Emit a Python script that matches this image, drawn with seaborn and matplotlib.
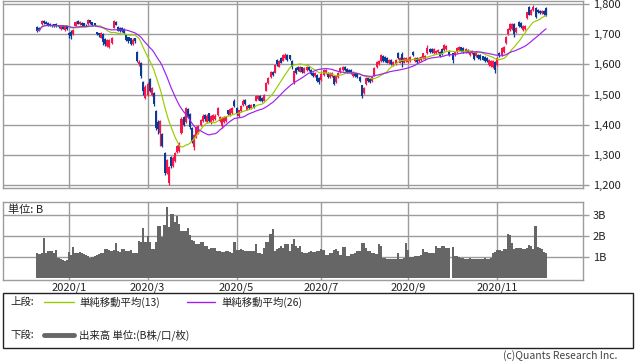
import numpy as np
import pandas as pd
import matplotlib
matplotlib.use("Agg")
import matplotlib.pyplot as plt
import seaborn as sns
from matplotlib.patches import Rectangle

sns.set_style("white")
plt.rcParams["font.family"] = ["Noto Sans CJK JP", "DejaVu Sans"]

# ---------------- data ----------------
start_date = "2019-12-10"
end_date = "2020-12-07"
holidays = ["2019-12-31", "2020-01-01", "2020-01-02", "2020-01-03", "2020-01-13",
            "2020-02-11", "2020-02-24", "2020-03-20", "2020-04-29", "2020-05-04",
            "2020-05-05", "2020-05-06", "2020-07-23", "2020-07-24", "2020-08-10",
            "2020-09-21", "2020-09-22", "2020-11-03", "2020-11-23"]
nan = np.nan

opens = [
    1724, 1722, 1733, 1745, 1742, 1738, 1735, 1732, 1733, 1734,
    1730, 1716, 1730, 1714, 1726, 1704, 1708, 1700, 1728, 1744,
    1733, 1738, 1736, 1732, 1734, 1746, 1740, 1736, 1706, 1703,
    1688, 1700, 1685, 1660, 1658, 1670, 1722, 1742, 1724, 1720,
    1722, 1716, 1697, 1690, 1686, 1668, 1686, 1640, 1600, 1606,
    1540, 1490, 1500, 1552, 1500, 1505, 1445, 1410, 1372, 1368,
    1305, 1240, 1205, 1293, 1262, 1278, 1310, 1312, 1372, 1425,
    1408, 1452, 1435, 1390, 1325, 1360, 1372, 1398, 1412, 1432,
    1410, 1438, 1405, 1415, 1420, 1432, 1412, 1395, 1408, 1412,
    1448, 1432, 1440, 1480, 1455, 1428, 1445, 1465, 1482, 1450,
    1465, 1455, 1468, 1480, 1485, 1495, 1490, 1480, 1512, 1538,
    1558, 1575, 1572, 1614, 1592, 1621, 1612, 1620, 1630, 1630,
    1612, 1540, 1588, 1590, 1576, 1590, 1572, 1580, 1592, 1582,
    1572, 1562, 1565, 1555, 1548, 1565, 1570, 1572, 1558, 1560,
    1560, 1540, 1558, 1575, 1580, 1590, 1585, 1582, 1580, 1560,
    1572, 1568, 1558, 1530, 1505, 1535, 1555, 1552, 1545, 1562,
    1590, 1600, 1612, 1628, 1625, 1620, 1604, 1614, 1598, 1602,
    1638, 1606, 1634, 1606, 1610, 1608, 1612, 1641, 1610, 1622,
    1610, 1615, 1622, 1618, 1638, 1652, 1650, 1636, 1638, 1640,
    1642, 1650, 1648, 1650, 1645, nan, 1636, 1630, 1642, 1648,
    1656, 1655, 1640, 1648, 1632, 1636, 1638, 1628, 1632, 1630,
    1626, 1624, 1620, 1598, 1594, 1592, 1608, 1598, 1638, 1630,
    1640, 1670, 1700, 1715, 1718, 1734, 1706, 1742, 1738, 1714,
    1718, 1754, 1790, 1765, 1780, 1787, 1780, 1778, 1770, 1776,
    1787]

closes = [
    1712, 1714, 1745, 1737, 1735, 1730, 1728, 1727, 1726, 1727,
    1725, 1729, 1718, 1727, 1718, 1697, 1695, 1715, 1742, 1735,
    1741, 1730, 1728, 1729, 1746, 1736, 1730, 1730, 1699, 1698,
    1703, 1675, 1668, 1682, 1680, 1688, 1743, 1732, 1712, 1712,
    1710, 1704, 1680, 1676, 1667, 1682, 1676, 1612, 1608, 1562,
    1510, 1525, 1535, 1512, 1522, 1468, 1390, 1385, 1412, 1330,
    1240, 1282, 1258, 1262, 1290, 1305, 1330, 1338, 1420, 1400,
    1455, 1430, 1392, 1345, 1365, 1390, 1395, 1414, 1430, 1418,
    1430, 1412, 1430, 1432, 1430, 1455, 1425, 1420, 1425, 1424,
    1435, 1452, 1455, 1462, 1435, 1448, 1462, 1480, 1468, 1462,
    1456, 1465, 1458, 1496, 1495, 1480, 1478, 1498, 1538, 1555,
    1575, 1565, 1598, 1600, 1610, 1606, 1630, 1630, 1616, 1618,
    1590, 1578, 1572, 1582, 1590, 1575, 1588, 1590, 1580, 1568,
    1560, 1570, 1545, 1540, 1568, 1580, 1580, 1558, 1570, 1572,
    1535, 1560, 1572, 1588, 1592, 1582, 1575, 1574, 1572, 1575,
    1560, 1558, 1545, 1495, 1522, 1555, 1545, 1542, 1558, 1588,
    1608, 1612, 1630, 1612, 1612, 1606, 1616, 1600, 1608, 1615,
    1622, 1620, 1608, 1620, 1620, 1618, 1625, 1630, 1620, 1608,
    1620, 1625, 1636, 1628, 1654, 1640, 1640, 1650, 1645, 1648,
    1628, 1635, 1664, 1662, 1630, nan, 1615, 1640, 1655, 1658,
    1645, 1640, 1650, 1640, 1642, 1645, 1618, 1640, 1620, 1618,
    1616, 1612, 1610, 1614, 1612, 1610, 1580, 1622, 1626, 1654,
    1656, 1690, 1718, 1735, 1734, 1700, 1722, 1726, 1725, 1728,
    1728, 1772, 1765, 1780, 1790, 1756, 1772, 1770, 1778, 1768,
    1762]

highs = [
    1727, 1725, 1748, 1747, 1744, 1740, 1737, 1735, 1735, 1736,
    1732, 1731, 1732, 1729, 1728, 1708, 1714, 1718, 1745, 1746,
    1744, 1740, 1738, 1734, 1750, 1748, 1742, 1738, 1708, 1705,
    1706, 1704, 1688, 1685, 1684, 1690, 1748, 1744, 1726, 1724,
    1724, 1720, 1699, 1692, 1688, 1686, 1688, 1645, 1615, 1608,
    1545, 1530, 1540, 1556, 1526, 1508, 1450, 1415, 1415, 1372,
    1308, 1286, 1262, 1296, 1295, 1308, 1334, 1342, 1425, 1430,
    1460, 1456, 1440, 1392, 1370, 1395, 1398, 1418, 1434, 1435,
    1434, 1440, 1433, 1436, 1434, 1458, 1428, 1424, 1428, 1428,
    1450, 1455, 1458, 1485, 1458, 1450, 1465, 1484, 1485, 1465,
    1468, 1468, 1470, 1500, 1498, 1497, 1492, 1502, 1540, 1558,
    1578, 1578, 1602, 1618, 1614, 1624, 1634, 1636, 1633, 1632,
    1615, 1582, 1592, 1593, 1593, 1592, 1591, 1593, 1595, 1585,
    1575, 1573, 1568, 1557, 1571, 1583, 1583, 1575, 1573, 1575,
    1562, 1563, 1575, 1591, 1596, 1593, 1588, 1585, 1583, 1578,
    1575, 1570, 1561, 1533, 1526, 1558, 1558, 1555, 1561, 1592,
    1611, 1616, 1634, 1631, 1628, 1623, 1619, 1617, 1611, 1618,
    1641, 1623, 1640, 1623, 1623, 1621, 1628, 1644, 1623, 1625,
    1623, 1628, 1639, 1631, 1665, 1655, 1653, 1653, 1648, 1651,
    1645, 1653, 1668, 1665, 1648, nan, 1639, 1643, 1658, 1661,
    1659, 1658, 1653, 1651, 1645, 1648, 1641, 1643, 1635, 1633,
    1629, 1627, 1623, 1617, 1615, 1613, 1611, 1625, 1641, 1657,
    1660, 1693, 1721, 1738, 1737, 1737, 1725, 1745, 1741, 1731,
    1731, 1775, 1795, 1783, 1797, 1790, 1783, 1781, 1781, 1779,
    1790]

lows = [
    1708, 1710, 1731, 1734, 1733, 1728, 1726, 1725, 1724, 1725,
    1722, 1714, 1716, 1712, 1715, 1688, 1684, 1698, 1726, 1733,
    1731, 1728, 1726, 1727, 1732, 1734, 1728, 1728, 1696, 1690,
    1686, 1665, 1662, 1657, 1655, 1668, 1720, 1730, 1710, 1708,
    1707, 1700, 1676, 1670, 1664, 1665, 1672, 1608, 1595, 1555,
    1500, 1486, 1495, 1508, 1496, 1462, 1382, 1370, 1330, 1325,
    1233, 1235, 1200, 1255, 1258, 1275, 1305, 1308, 1368, 1396,
    1405, 1425, 1385, 1340, 1315, 1355, 1368, 1395, 1408, 1412,
    1406, 1408, 1402, 1412, 1416, 1430, 1408, 1388, 1405, 1408,
    1432, 1430, 1437, 1458, 1432, 1425, 1442, 1462, 1465, 1447,
    1452, 1452, 1455, 1478, 1482, 1477, 1475, 1478, 1510, 1535,
    1555, 1562, 1570, 1596, 1590, 1603, 1610, 1618, 1612, 1615,
    1586, 1535, 1568, 1578, 1574, 1572, 1570, 1577, 1577, 1565,
    1557, 1559, 1541, 1536, 1545, 1562, 1567, 1555, 1555, 1557,
    1531, 1537, 1555, 1572, 1578, 1579, 1572, 1571, 1569, 1557,
    1557, 1555, 1541, 1490, 1502, 1532, 1542, 1539, 1542, 1560,
    1587, 1597, 1609, 1609, 1609, 1603, 1601, 1597, 1595, 1599,
    1619, 1603, 1590, 1603, 1607, 1605, 1609, 1627, 1607, 1605,
    1607, 1612, 1619, 1615, 1635, 1637, 1637, 1633, 1635, 1637,
    1625, 1632, 1645, 1647, 1627, nan, 1605, 1627, 1639, 1645,
    1642, 1637, 1637, 1637, 1629, 1633, 1615, 1625, 1617, 1615,
    1613, 1609, 1607, 1595, 1591, 1589, 1570, 1595, 1623, 1627,
    1637, 1667, 1697, 1712, 1715, 1690, 1703, 1723, 1722, 1711,
    1715, 1751, 1762, 1762, 1777, 1753, 1769, 1767, 1767, 1765,
    1759]

volumes = [
    1.18, 1.15, 1.20, 1.94, 1.18, 1.32, 1.28, 1.30, 1.20, 1.36,
    0.95, 0.90, 0.85, 0.82, 0.85, 1.25, 1.12, 1.49, 1.20, 1.18,
    1.25, 1.20, 1.15, 1.10, 1.05, 0.95, 1.00, 1.05, 1.10, 1.15,
    1.20, 1.20, 1.40, 1.40, 1.36, 1.30, 1.35, 1.67, 1.28, 1.25,
    1.40, 1.38, 1.30, 1.32, 1.35, 1.20, 1.20, 1.22, 1.78, 1.75,
    2.38, 1.75, 2.00, 1.72, 1.38, 1.40, 1.75, 2.50, 2.50, 1.95,
    2.52, 3.42, 2.44, 3.05, 3.05, 2.70, 2.95, 2.60, 2.27, 2.27,
    2.27, 2.38, 2.05, 1.80, 1.78, 1.62, 1.62, 1.72, 1.72, 1.55,
    1.55, 1.38, 1.45, 1.45, 1.42, 1.28, 1.28, 1.25, 1.25, 1.30,
    1.30, 1.25, 1.22, 1.75, 1.35, 1.35, 1.38, 1.35, 1.30, 1.32,
    1.30, 1.28, 1.30, 1.62, 1.20, 1.18, 1.15, 1.45, 1.72, 1.72,
    2.10, 2.35, 1.30, 1.38, 1.42, 1.55, 1.42, 1.65, 1.62, 1.30,
    1.65, 1.85, 1.55, 1.45, 1.55, 1.25, 1.20, 1.20, 1.25, 1.28,
    1.25, 1.25, 1.28, 1.30, 1.38, 1.35, 1.12, 1.12, 1.20, 1.22,
    1.35, 1.38, 1.28, 1.12, 1.50, 1.50, 1.06, 1.06, 1.15, 1.15,
    1.18, 1.28, 1.30, 1.68, 1.68, 1.45, 1.30, 1.28, 1.22, 1.20,
    1.15, 1.62, 1.52, 0.95, 0.95, 0.92, 0.92, 0.90, 0.92, 0.92,
    1.20, 0.92, 0.90, 0.95, 1.68, 1.35, 1.00, 1.00, 1.08, 1.08,
    1.08, 1.10, 1.40, 1.25, 1.25, 1.22, 1.22, 1.20, 1.55, 1.45,
    1.45, 1.53, 1.53, 1.45, 1.45, 0.00, 1.50, 1.08, 1.05, 1.02,
    0.95, 0.95, 0.93, 0.92, 0.95, 0.92, 0.90, 0.93, 0.92, 0.90,
    0.92, 0.95, 0.93, 0.92, 0.95, 1.22, 1.25, 1.35, 1.35, 1.30,
    1.38, 1.40, 2.10, 2.05, 1.68, 1.38, 1.45, 1.45, 1.42, 1.38,
    1.40, 1.45, 1.60, 1.55, 1.38, 2.48, 1.50, 1.45, 1.40, 1.25,
    1.20]

month_labels = ["2020/1", "2020/3", "2020/5", "2020/7", "2020/9", "2020/11"]
price_ticks = [1200, 1300, 1400, 1500, 1600, 1700, 1800]
price_tick_labels = ["1,200", "1,300", "1,400", "1,500", "1,600", "1,700", "1,800"]
vol_ticks = [1, 2, 3]
vol_tick_labels = ["1B", "2B", "3B"]

# ---------------- frame ----------------
hol = set(pd.to_datetime(holidays))
dates = [d for d in pd.bdate_range(start_date, end_date) if d not in hol]
df = pd.DataFrame({"date": dates, "open": opens, "high": highs, "low": lows,
                   "close": closes, "volume": volumes})
df["pos"] = np.arange(len(df))
df["ma13"] = df["close"].rolling(13, min_periods=1).mean()
df["ma26"] = df["close"].rolling(26, min_periods=1).mean()

month_pos = []
for lab in month_labels:
    y, m = lab.split("/")
    sel = df[(df["date"].dt.year == int(y)) & (df["date"].dt.month == int(m))]
    month_pos.append(int(sel["pos"].iloc[0]))

W, H = 638, 362
fig = plt.figure(figsize=(W / 100, H / 100), dpi=100)
fig.patch.set_facecolor("white")

def rect(x0, y0, x1, y1):
    return [x0 / W, 1 - y1 / H, (x1 - x0) / W, (y1 - y0) / H]

GRID = "#9c9c9c"
UP = "#f5164a"
DOWN = "#0a3a94"
XL = (-16.2, 257.4)

# price panel
ax = fig.add_axes(rect(3, 1, 583, 188))
valid = df.dropna(subset=["open"])
up = valid["close"] >= valid["open"]
colors = np.where(up, UP, DOWN)
ax.vlines(valid["pos"], valid["low"], valid["high"], colors=colors, lw=0.9, zorder=3)
body = (valid["close"] - valid["open"]).to_numpy()
body = np.where(np.abs(body) < 2, 2, body)
ax.bar(valid["pos"], body, bottom=valid["open"], width=0.95, color=colors,
       linewidth=0, zorder=3)
sns.lineplot(data=df, x="pos", y="ma13", ax=ax, color="#99cc00", lw=0.85, zorder=4,
             legend=False)
sns.lineplot(data=df, x="pos", y="ma26", ax=ax, color="#a020f0", lw=0.85, zorder=4,
             legend=False)
ax.set_xlim(*XL)
ax.set_ylim(1190, 1810)
ax.set_xticks(month_pos)
ax.set_yticks(price_ticks)
ax.set_yticklabels(price_tick_labels)
ax.yaxis.tick_right()
ax.tick_params(axis="x", length=0, labelbottom=False)
ax.tick_params(axis="y", length=4, color=GRID, width=1, labelsize=8, pad=3,
               labelcolor="#222222")
ax.grid(True, color=GRID, lw=1)
ax.set_axisbelow(True)
ax.set_xlabel("")
ax.set_ylabel("")
for s in ax.spines.values():
    s.set_color(GRID)
    s.set_linewidth(1)

# volume panel
vx = fig.add_axes(rect(3, 202, 583, 280))
vx.bar(df["pos"], df["volume"], width=1.0, color="#666666", linewidth=0, zorder=3)
vx.set_xlim(*XL)
vx.set_ylim(-0.09, 3.64)
vx.set_xticks(month_pos)
vx.set_xticklabels(month_labels)
vx.set_yticks(vol_ticks)
vx.set_yticklabels(vol_tick_labels)
vx.yaxis.tick_right()
vx.tick_params(axis="x", length=0, labelsize=8, pad=1.5, labelcolor="#222222")
vx.tick_params(axis="y", length=4, color=GRID, width=1, labelsize=8, pad=3,
               labelcolor="#222222")
vx.grid(True, color=GRID, lw=1)
vx.set_axisbelow(True)
for s in vx.spines.values():
    s.set_color(GRID)
    s.set_linewidth(1)
vx.text(5 / 580, 0.9, "単位: B", transform=vx.transAxes, fontsize=8,
        va="center", ha="left", color="#222222", zorder=5)

# legend / footer
lax = fig.add_axes([0, 0, 1, 1])
lax.set_xlim(0, W)
lax.set_ylim(H, 0)
lax.axis("off")
lax.patch.set_visible(False)
lax.add_patch(Rectangle((3, 293), 630, 55, fill=False, ec="#222222", lw=1))
lax.text(10, 302, "上段:", fontsize=7.5, va="center", color="#222222")
lax.plot([44, 74], [302, 302], color="#99cc00", lw=1)
lax.text(79, 302, "単純移動平均(13)", fontsize=7.5, va="center", color="#222222")
lax.plot([187, 215], [302, 302], color="#a020f0", lw=1)
lax.text(221, 302, "単純移動平均(26)", fontsize=7.5, va="center", color="#222222")
lax.text(10, 335, "下段:", fontsize=7.5, va="center", color="#222222")
lax.plot([44, 74], [335, 335], color="#666666", lw=3.5)
lax.text(79, 335, "出来高 単位:(B株/口/枚)", fontsize=7.5, va="center", color="#222222")
lax.text(617, 356, "(c)Quants Research Inc.", fontsize=7.5, va="center", ha="right",
         color="#444444")

fig.savefig("out.png", dpi=100)
